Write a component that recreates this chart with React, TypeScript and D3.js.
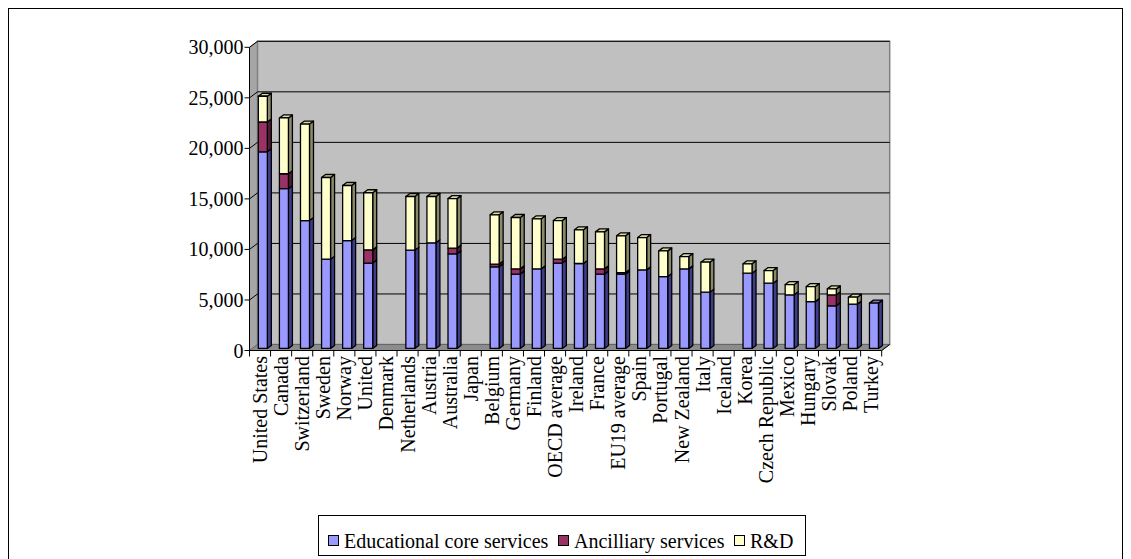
import React from "react";
import * as d3 from "d3";

// Expenditure per student by service type (USD)
const categories = [
  "United States", "Canada", "Switzerland", "Sweden", "Norway", "United",
  "Denmark", "Netherlands", "Austria", "Australia", "Japan", "Belgium",
  "Germany", "Finland", "OECD average", "Ireland", "France", "EU19 average",
  "Spain", "Portugal", "New Zealand", "Italy", "Iceland", "Korea",
  "Czech Republic", "Mexico", "Hungary", "Slovak", "Poland", "Turkey",
];
const coreServices = [
  19450, 15800, 12650, 8830, 10670, 8440, 0, 9720, 10450, 9360, 0, 8070,
  7350, 7870, 8440, 8400, 7350, 7350, 7770, 7110, 7870, 5560, 0, 7440,
  6450, 5300, 4630, 4210, 4380, 4480,
];
const ancillaryServices = [
  2950, 1480, 0, 0, 0, 1310, 0, 0, 0, 560, 0, 270,
  520, 0, 390, 0, 520, 150, 0, 0, 0, 0, 0, 0,
  0, 0, 0, 1090, 0, 0,
];
const researchDev = [
  2550, 5520, 9550, 8080, 5450, 5650, 0, 5310, 4580, 4900, 0, 4880,
  5080, 4950, 3820, 3330, 3660, 3640, 3200, 2540, 1220, 2970, 0, 930,
  1250, 1020, 1490, 590, 690, 0,
];
const yTicks = [0, 5000, 10000, 15000, 20000, 25000, 30000];

const seriesNames = ["Educational core services", "Ancilliary services", "R&D"];
const seriesFront = ["#9999FF", "#993366", "#FFFFCC"];
const seriesSide = ["#3d3d8a", "#4f1a35", "#8a8a6a"];
const seriesTop = ["#7a7acc", "#7a2952", "#d8d8aa"];

const FONT = "'Liberation Serif', 'Times New Roman', serif";
const FS = 20;

// plot geometry
const plotLeft = 249.5;
const plotRight = 881.7;
const DX = 8; // wall depth offset
const DY = -6;
const BDX = 4; // bar depth offset
const BDY = -3;
const BAR_SHIFT_X = 2.8;
const BAR_SHIFT_Y = -2.1;

export default function App() {
  const x = d3.scaleBand<string>().domain(categories).range([plotLeft, plotRight]).padding(0);
  const y = d3.scaleLinear().domain([0, 30000]).range([350.5, 47.3]);
  const bw = x.bandwidth();
  const barW = bw * 0.427;

  const stacks = categories.map((c, i) => {
    const vals = [coreServices[i], ancillaryServices[i], researchDev[i]];
    let acc = 0;
    const segs = vals.map((v, s) => {
      const seg = { s, y0: acc, y1: acc + v, v };
      acc += v;
      return seg;
    });
    return { c, segs: segs.filter((g) => g.v > 0), total: acc };
  });

  const yBottom = y(0);
  const yTop = y(30000);
  const grid = yTicks.slice(1);

  const poly = (pts: [number, number][]) => pts.map((p) => p.join(",")).join(" ");

  // legend layout (swatch + label widths)
  const legendTextW = [204, 150, 43];
  const legendX: number[] = [];
  let cursor = 328;
  legendTextW.forEach((w) => {
    legendX.push(cursor);
    cursor += 16 + w + 10;
  });
  const legendRight = cursor + 2;

  return (
    <svg
      width={1131}
      height={559}
      style={{ position: "absolute", left: 0, top: 0, background: "#fff" }}
      fontFamily={FONT}
    >
      {/* chart frame */}
      <rect x={8.5} y={8.5} width={1114} height={600} fill="#fff" stroke="#000" strokeWidth={1} />

      {/* side wall */}
      <polygon
        points={poly([
          [plotLeft, yTop],
          [plotLeft + DX, yTop + DY],
          [plotLeft + DX, yBottom + DY],
          [plotLeft, yBottom],
        ])}
        fill="#a6a6a6"
        stroke="#808080"
      />
      {/* back wall */}
      <rect
        x={plotLeft + DX}
        y={yTop + DY}
        width={plotRight - plotLeft}
        height={yBottom - yTop}
        fill="#C0C0C0"
        stroke="#808080"
        strokeWidth={1.5}
      />
      {/* floor */}
      <polygon
        points={poly([
          [plotLeft, yBottom],
          [plotLeft + DX, yBottom + DY],
          [plotRight + DX, yBottom + DY],
          [plotRight, yBottom],
        ])}
        fill="#8c8c8c"
        stroke="#666"
      />
      {/* gridlines */}
      {grid.map((t) => (
        <g key={t}>
          <line x1={plotLeft} y1={y(t)} x2={plotLeft + DX} y2={y(t) + DY} stroke="#000" strokeWidth={1} />
          <line x1={plotLeft + DX} y1={y(t) + DY} x2={plotRight + DX} y2={y(t) + DY} stroke="#000" strokeWidth={1} />
        </g>
      ))}

      {/* bars */}
      {stacks.map((st) => {
        const bx = (x(st.c) as number) + (bw - barW) / 2 + BAR_SHIFT_X;
        return (
          <g key={st.c}>
            {st.segs.map((g, k) => {
              const yb = y(g.y0) + BAR_SHIFT_Y;
              const yt = y(g.y1) + BAR_SHIFT_Y;
              const isTop = k === st.segs.length - 1;
              return (
                <g key={g.s} stroke="#000" strokeWidth={1.3} strokeLinejoin="round">
                  <polygon
                    points={poly([
                      [bx + barW, yt],
                      [bx + barW + BDX, yt + BDY],
                      [bx + barW + BDX, yb + BDY],
                      [bx + barW, yb],
                    ])}
                    fill={seriesSide[g.s]}
                  />
                  {isTop && (
                    <polygon
                      points={poly([
                        [bx, yt],
                        [bx + BDX, yt + BDY],
                        [bx + barW + BDX, yt + BDY],
                        [bx + barW, yt],
                      ])}
                      fill={seriesTop[g.s]}
                    />
                  )}
                  <rect x={bx} y={yt} width={barW} height={yb - yt} fill={seriesFront[g.s]} />
                </g>
              );
            })}
          </g>
        );
      })}

      {/* value axis */}
      <line x1={plotLeft} y1={yTop} x2={plotLeft} y2={yBottom} stroke="#000" strokeWidth={1} />
      {yTicks.map((t) => (
        <g key={t}>
          <line x1={plotLeft - 5} y1={y(t)} x2={plotLeft} y2={y(t)} stroke="#000" />
          <text
            x={plotLeft - 6}
            y={y(t)}
            textAnchor="end"
            dominantBaseline="central"
            fontSize={FS}
            fill="#000"
          >
            {d3.format(",")(t)}
          </text>
        </g>
      ))}

      {/* category axis */}
      <line x1={plotLeft} y1={yBottom} x2={plotRight} y2={yBottom} stroke="#000" />
      <line x1={plotRight} y1={yBottom} x2={plotRight + DX} y2={yBottom + DY} stroke="#000" />
      {categories.concat([""]).map((c, i) => {
        const tx = plotLeft + i * bw;
        return <line key={"t" + i} x1={tx} y1={yBottom} x2={tx} y2={yBottom + 6} stroke="#000" />;
      })}
      {categories.map((c) => {
        const cx = (x(c) as number) + bw / 2;
        const ty = 356;
        return (
          <text
            key={c}
            transform={`translate(${cx},${ty}) rotate(-90)`}
            textAnchor="end"
            dominantBaseline="central"
            fontSize={FS}
            fill="#000"
          >
            {c}
          </text>
        );
      })}

      {/* legend */}
      <g>
        <rect x={318.5} y={515.5} width={legendRight - 318} height={40} fill="#fff" stroke="#000" />
        {seriesNames.map((n, i) => (
          <g key={n}>
            <rect x={legendX[i] + 0.5} y={535.5} width={10} height={10} fill={seriesFront[i]} stroke="#000" />
            <text x={legendX[i] + 16} y={541} dominantBaseline="central" fontSize={FS} fill="#000">
              {n}
            </text>
          </g>
        ))}
      </g>
    </svg>
  );
}
